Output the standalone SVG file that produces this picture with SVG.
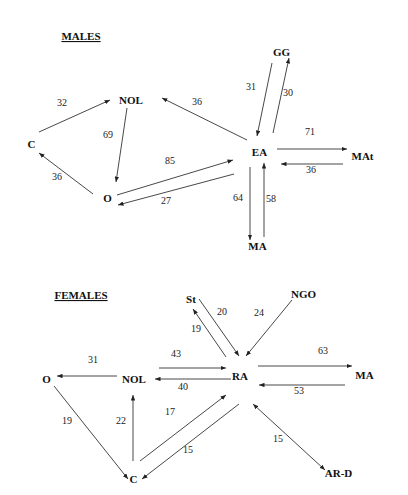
<svg xmlns="http://www.w3.org/2000/svg" width="408" height="495" viewBox="0 0 408 495">
<defs>
<marker id="ah" viewBox="0 0 10 8" refX="10" refY="4" markerWidth="5.5" markerHeight="4.4" markerUnits="userSpaceOnUse" orient="auto-start-reverse">
<path d="M0,0 L10,4 L0,8 Z" fill="#222"/>
</marker>
<style>
text{font-family:'Liberation Serif','DejaVu Serif',serif}
.n{font-weight:bold;font-size:11px;fill:#111;text-anchor:middle}
.t{font-weight:bold;font-size:11px;fill:#111;text-anchor:middle;text-decoration:underline}
.l{font-size:10px;fill:#222;text-anchor:middle}
.e line{stroke:#333;stroke-width:0.9;marker-end:url(#ah)}
</style>
</defs>
<rect width="408" height="495" fill="#fff"/>
<text class="t" x="81" y="40">MALES</text>
<text class="t" x="81" y="299">FEMALES</text>
<g id="males-edges" class="e">
<line x1="39" y1="132" x2="110" y2="100"/>
<line x1="127" y1="108" x2="116" y2="182"/>
<line x1="93" y1="194" x2="39" y2="153"/>
<line x1="247" y1="140" x2="162" y2="98"/>
<line x1="117" y1="195" x2="233" y2="160"/>
<line x1="234" y1="174" x2="118" y2="205"/>
<line x1="272" y1="63" x2="257" y2="136"/>
<line x1="273" y1="133" x2="289" y2="58"/>
<line x1="277" y1="149" x2="347" y2="149"/>
<line x1="343" y1="164" x2="281" y2="164"/>
<line x1="250" y1="167" x2="250" y2="240"/>
<line x1="264" y1="237" x2="264" y2="163"/>
</g>
<g id="males-labels">
<text class="l" x="62" y="106">32</text>
<text class="l" x="108" y="138">69</text>
<text class="l" x="57" y="180">36</text>
<text class="l" x="197" y="105">36</text>
<text class="l" x="170" y="164">85</text>
<text class="l" x="166" y="204">27</text>
<text class="l" x="251" y="90">31</text>
<text class="l" x="288" y="96">30</text>
<text class="l" x="310" y="135">71</text>
<text class="l" x="311" y="173">36</text>
<text class="l" x="238" y="201">64</text>
<text class="l" x="271" y="202">58</text>
</g>
<g id="m-NOL"><text class="n" x="131" y="104">NOL</text></g>
<g id="m-C"><text class="n" x="31.5" y="148">C</text></g>
<g id="m-O"><text class="n" x="107.5" y="202">O</text></g>
<g id="m-EA"><text class="n" x="259.5" y="156">EA</text></g>
<g id="m-GG"><text class="n" x="281.5" y="56">GG</text></g>
<g id="m-MAt"><text class="n" x="362.5" y="160">MAt</text></g>
<g id="m-MA"><text class="n" x="257.5" y="250">MA</text></g>
<g id="females-edges" class="e">
<line x1="199" y1="299" x2="239" y2="356"/>
<line x1="226" y1="357" x2="193" y2="309"/>
<line x1="292" y1="300" x2="246" y2="356"/>
<line x1="159" y1="368" x2="226" y2="368"/>
<line x1="231" y1="379" x2="155" y2="379"/>
<line x1="117" y1="376" x2="57" y2="376"/>
<line x1="258" y1="366" x2="352" y2="366"/>
<line x1="345" y1="385" x2="259" y2="385"/>
<line x1="54" y1="386" x2="128" y2="479"/>
<line x1="133" y1="461" x2="133" y2="395"/>
<line x1="140" y1="461" x2="226" y2="395"/>
<line x1="239" y1="404" x2="142" y2="479"/>
<line x1="253" y1="404" x2="325" y2="470" style="marker-start:url(#ah)"/>
</g>
<g id="females-labels">
<text class="l" x="222" y="315">20</text>
<text class="l" x="196" y="332">19</text>
<text class="l" x="259" y="316">24</text>
<text class="l" x="176" y="357">43</text>
<text class="l" x="93" y="363">31</text>
<text class="l" x="183" y="390">40</text>
<text class="l" x="323" y="354">63</text>
<text class="l" x="299" y="394">53</text>
<text class="l" x="67" y="424">19</text>
<text class="l" x="121" y="424">22</text>
<text class="l" x="170" y="415">17</text>
<text class="l" x="188" y="453">15</text>
<text class="l" x="278" y="442">15</text>
</g>
<g id="f-St"><text class="n" x="191" y="303">St</text></g>
<g id="f-NGO"><text class="n" x="303.5" y="298">NGO</text></g>
<g id="f-O"><text class="n" x="46.5" y="383">O</text></g>
<g id="f-NOL"><text class="n" x="134" y="383">NOL</text></g>
<g id="f-RA"><text class="n" x="240" y="380">RA</text></g>
<g id="f-MA"><text class="n" x="364.5" y="379">MA</text></g>
<g id="f-C"><text class="n" x="133.5" y="483">C</text></g>
<g id="f-ARD"><text class="n" x="338.5" y="477">AR-D</text></g>
</svg>
